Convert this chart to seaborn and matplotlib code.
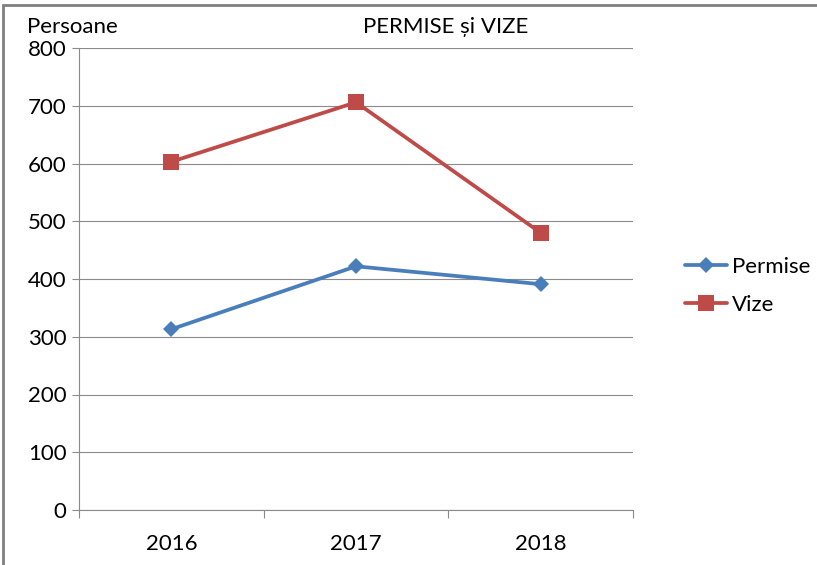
import pandas as pd
import numpy as np
import matplotlib.pyplot as plt
import seaborn as sns
from matplotlib.patches import Rectangle

years = ['2016', '2017', '2018']
permise = [313, 422, 391]
vize = [603, 706, 480]
series_names = ['Permise', 'Vize']

df = pd.DataFrame({
    'x': list(range(len(years))) * 2,
    'val': permise + vize,
    'serie': [series_names[0]] * 3 + [series_names[1]] * 3,
})

sns.set_style('white')
plt.rcParams['font.family'] = ['Lato', 'DejaVu Sans']
plt.rcParams['text.color'] = '#000000'

fig = plt.figure(figsize=(8.17, 5.65), dpi=100)
ax = fig.add_axes([79 / 817, 1 - 510 / 565, (633 - 79) / 817, (510 - 48) / 565])

sns.lineplot(ax=ax, data=df, x='x', y='val', hue='serie', style='serie',
             palette={'Permise': '#4A7EBB', 'Vize': '#BE4B48'},
             markers={'Permise': 'D', 'Vize': 's'}, dashes=False,
             linewidth=2.7, markersize=9, markeredgewidth=0)
# square marker is a bit bigger than the diamond
for line in ax.get_lines():
    if line.get_marker() == 's':
        line.set_markersize(11)
    elif line.get_marker() == 'D':
        line.set_markersize(8)

ax.set_xlim(-0.5, 2.5)
ax.set_ylim(0, 800)
ax.set_yticks(range(0, 801, 100))
ax.yaxis.grid(True, color='#8a8a8a', linewidth=0.8)
ax.set_axisbelow(True)
ax.set_xticks([-0.5, 0.5, 1.5, 2.5])
ax.set_xticklabels([])
ax.set_xticks(range(3), labels=years, minor=True)
ax.tick_params(axis='x', which='major', length=6, color='#8a8a8a', direction='out', bottom=True)
ax.tick_params(axis='x', which='minor', length=0, labelsize=16, pad=17, labelcolor='black')
ax.tick_params(axis='y', length=5, color='#8a8a8a', direction='out', left=True, labelsize=16, pad=4,
               labelcolor='black')
for s in ['top', 'right']:
    ax.spines[s].set_visible(False)
for s in ['left', 'bottom']:
    ax.spines[s].set_color('#8a8a8a')
    ax.spines[s].set_linewidth(0.8)
ax.set_xlabel('')
ax.set_ylabel('')

h, l = ax.get_legend_handles_labels()
ax.legend(h, l, loc='center left', bbox_to_anchor=(665 / 817, 1 - 286 / 565),
          bbox_transform=fig.transFigure, frameon=False, fontsize=16,
          handlelength=1.9, handletextpad=0.2, labelspacing=0.8)

fig.text(27 / 817, 1 - 27 / 565, 'Persoane', fontsize=16, va='center', ha='left')
fig.text(446 / 817, 1 - 27 / 565, 'PERMISE și VIZE', fontsize=16, va='center', ha='center')

fig.patches.append(Rectangle((3 / 817, -0.05), 1.0, 1 - 5 / 565 + 0.05, transform=fig.transFigure,
                             fill=False, edgecolor='#7f7f7f', linewidth=2))

fig.savefig('out.png', dpi=100)
